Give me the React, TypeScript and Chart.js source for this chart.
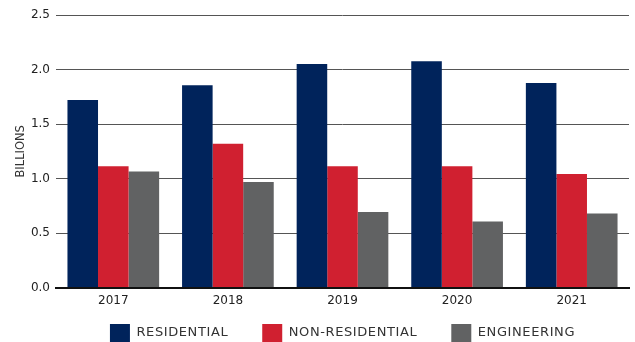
import React, { useEffect, useRef } from "react";
import { Chart, registerables } from "chart.js";

Chart.register(...registerables);

const categories = ["2017", "2018", "2019", "2020", "2021"];
const residential = [1.72, 1.856, 2.05, 2.076, 1.877];
const nonResidential = [1.114, 1.32, 1.112, 1.114, 1.041];
const engineering = [1.065, 0.968, 0.693, 0.607, 0.68];
const seriesLabels = ["RESIDENTIAL", "NON-RESIDENTIAL", "ENGINEERING"];
const yTitle = "BILLIONS";

const LEGEND_H = 28;
const LEGEND_SHIFT = 24;
const LEGEND_SPACING = "0.6px";

const legendFit = {
  id: "legendFit",
  beforeLayout(chart: any) {
    const lg = chart.legend;
    if (lg && !lg._patched) {
      const origFit = lg.fit;
      lg.fit = function () {
        const c = this.ctx;
        const prev = c.letterSpacing;
        c.letterSpacing = LEGEND_SPACING;
        origFit.call(this);
        c.letterSpacing = prev || "0px";
        this.height = LEGEND_H;
      };
      const origDraw = lg.draw;
      lg.draw = function () {
        const c = this.ctx;
        const prev = c.letterSpacing;
        c.letterSpacing = LEGEND_SPACING;
        const t = this.top;
        const l = this.left;
        const r = this.right;
        // center the legend on the plot area rather than the whole canvas
        const area = this.chart.chartArea;
        const dx = (area.left + area.right) / 2 - (l + r) / 2;
        this.top = t - LEGEND_SHIFT;
        this.left = l + dx;
        this.right = r + dx;
        origDraw.call(this);
        this.top = t;
        this.left = l;
        this.right = r;
        c.letterSpacing = prev || "0px";
      };
      lg._patched = true;
    }
  },
};

export default function App() {
  const ref = useRef<HTMLCanvasElement | null>(null);
  useEffect(() => {
    document.body.style.margin = "0";
    const ctx = ref.current!;
    const font = "'DejaVu Sans', sans-serif";
    const chart = new Chart(ctx, {
      type: "bar",
      data: {
        labels: categories,
        datasets: [
          { label: seriesLabels[0], data: residential, backgroundColor: "#00235B" },
          { label: seriesLabels[1], data: nonResidential, backgroundColor: "#D02030" },
          { label: seriesLabels[2], data: engineering, backgroundColor: "#616263" },
        ],
      },
      plugins: [legendFit],
      options: {
        animation: false,
        responsive: false,
        maintainAspectRatio: false,
        layout: { padding: { top: 15, right: 6, left: 14, bottom: 0 } },
        datasets: { bar: { categoryPercentage: 0.8, barPercentage: 1.0 } },
        plugins: {
          tooltip: { enabled: false },
          legend: {
            position: "bottom",
            labels: {
              boxWidth: 20,
              boxHeight: 18,
              padding: 34,
              color: "#333",
              font: { family: font, size: 13 },
            },
          },
        },
        scales: {
          x: {
            grid: { display: false, drawTicks: false },
            border: { display: true, color: "#111", width: 2 },
            ticks: { color: "#222", font: { family: font, size: 12 }, padding: 6 },
          },
          y: {
            min: 0,
            max: 2.5,
            ticks: {
              stepSize: 0.5,
              color: "#222",
              padding: 6,
              font: { family: font, size: 12 },
              callback: (v: any) => Number(v).toFixed(1),
            },
            grid: { color: "#555", lineWidth: 1, drawTicks: false },
            border: { display: false },
            afterFit: (s: any) => {
              s.width = 42;
            },
            title: {
              display: true,
              text: yTitle,
              color: "#333",
              font: { family: font, size: 11.5 },
              padding: 0,
            },
          },
        },
      },
    });
    return () => chart.destroy();
  }, []);
  return (
    <div style={{ position: "absolute", left: 0, top: 0, width: 635, height: 342 }}>
      <canvas ref={ref} width={635} height={342} style={{ width: 635, height: 342 }} />
    </div>
  );
}
